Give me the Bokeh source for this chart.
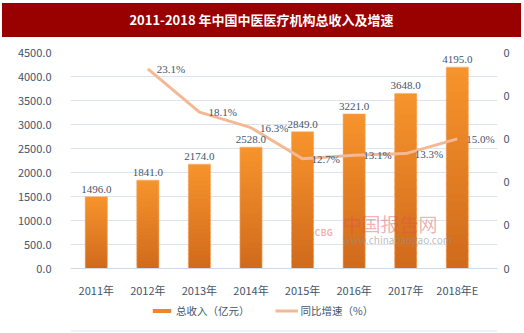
from bokeh.plotting import figure
from bokeh.layouts import column
from bokeh.models import (ColumnDataSource, Range1d, LinearAxis, FixedTicker,
                          NumeralTickFormatter, Legend, LegendItem, LabelSet, Label,
                          Div, BoxAnnotation)
from bokeh.embed import file_html
from bokeh.resources import INLINE

# ---- data ----
years = ["2011年", "2012年", "2013年", "2014年", "2015年", "2016年", "2017年", "2018年E"]
revenue = [1496.0, 1841.0, 2174.0, 2528.0, 2849.0, 3221.0, 3648.0, 4195.0]
growth_years = ["2012年", "2013年", "2014年", "2015年", "2016年", "2017年", "2018年E"]
growth_pct = [23.1, 18.1, 16.3, 12.7, 13.1, 13.3, 15.0]
left_ticks = [0, 500, 1000, 1500, 2000, 2500, 3000, 3500, 4000, 4500]
right_ticks = [0.0, 0.05, 0.10, 0.15, 0.20, 0.25]
title_text = "2011-2018 年中国中医医疗机构总收入及增速"
legend_bar = "总收入（亿元）"
legend_line = "同比增速（%）"

FONT = "Noto Sans CJK SC"
TXT = "#44546A"
BAR = "#EE8729"
BAR_TOP = (247, 148, 44)
BAR_BOTTOM = (208, 106, 28)
LINE = "#F4B994"

xpos = list(range(len(years)))
bar_src = ColumnDataSource(dict(
    x=xpos, rev=revenue, lab=["%.1f" % v for v in revenue]))
line_src = ColumnDataSource(dict(
    x=[years.index(y) for y in growth_years], g=[v / 100 for v in growth_pct],
    lab=["%.1f%%" % v for v in growth_pct]))

# vertical colour gradient of each bar: each bar (from its own value) is split
# into thin slices, dark at the bottom and light at the top; slices overlap a
# little upward so no seams show
NS = 24
OVERLAP = 40.0
gx, gb, gt, gc = [], [], [], []
for i, v in zip(xpos, revenue):
    for k in range(NS):
        f = (k + 0.5) / NS
        c = tuple(int(round(b + (t - b) * f)) for b, t in zip(BAR_BOTTOM, BAR_TOP))
        gx.append(i)
        gb.append(v * k / NS)
        top = v * (k + 1) / NS
        gt.append(top if k == NS - 1 else min(top + OVERLAP, v))
        gc.append("#%02x%02x%02x" % c)
grad_src = ColumnDataSource(dict(x=gx, bottom=gb, top=gt, color=gc))

title = Div(text=title_text, width=519, height=34, margin=(3, 3, 3, 2),
            styles={"background-color": "#990000", "color": "white",
                    "font-weight": "bold", "font-size": "13px",
                    "font-family": FONT, "text-align": "center",
                    "line-height": "34px", "width": "519px"})

p = figure(width=524, height=260, x_range=Range1d(-0.5, 7.78),
           y_range=Range1d(0, 4500),
           output_backend="svg", toolbar_location=None,
           min_border_left=70, min_border_right=27, min_border_top=12,
           min_border_bottom=30, margin=0)
p.outline_line_color = None
p.background_fill_color = "white"
p.border_fill_color = "white"
p.extra_y_ranges = {"pct": Range1d(0, 0.25)}

p.vbar(x="x", bottom="bottom", top="top", width=0.43, source=grad_src,
       fill_color="color", line_color=None)
p.vbar(x="x", top="rev", width=0.43, source=bar_src, fill_alpha=0,
       line_color="#F9B070", line_width=0.8, line_alpha=0.7)
line = p.line(x="x", y="g", source=line_src, y_range_name="pct",
              line_color=LINE, line_width=3)

# axes
p.yaxis.ticker = FixedTicker(ticks=left_ticks)
p.yaxis.formatter = NumeralTickFormatter(format="0.0")
p.xaxis.ticker = FixedTicker(ticks=xpos)
p.xaxis.major_label_overrides = {i: y for i, y in zip(xpos, years)}
for ax in (p.yaxis[0], p.xaxis[0]):
    ax.major_label_text_font = FONT
    ax.major_label_text_font_size = "11px"
    ax.major_label_text_color = TXT
    ax.major_tick_line_color = None
    ax.minor_tick_line_color = None
p.yaxis.axis_line_color = None
p.yaxis.major_label_standoff = 13
p.xaxis.axis_line_color = "#D0D8E8"
p.xaxis.major_label_standoff = 7

rax = LinearAxis(y_range_name="pct", ticker=FixedTicker(ticks=right_ticks),
                 formatter=NumeralTickFormatter(format="0"))
rax.axis_line_color = None
rax.major_tick_line_color = None
rax.minor_tick_line_color = None
rax.major_label_text_font = FONT
rax.major_label_text_font_size = "11px"
rax.major_label_text_color = TXT
rax.major_label_standoff = 0
p.add_layout(rax, "right")

p.xgrid.grid_line_color = None
p.ygrid.grid_line_color = "#DCE4F2"
p.ygrid.grid_line_width = 1

# data labels
p.add_layout(LabelSet(x="x", y="rev", text="lab", source=bar_src,
                      text_align="center", text_baseline="bottom", y_offset=4,
                      text_font=FONT, text_font_size="11px", text_color=TXT))
p.add_layout(LabelSet(x="x", y="g", text="lab", source=line_src,
                      y_range_name="pct", text_align="left",
                      text_baseline="middle", x_offset=9,
                      text_font=FONT, text_font_size="11px", text_color=TXT))

# watermark
p.add_layout(Label(x=272, y=45, x_units="screen", y_units="screen",
                   text="中国报告网", text_font=FONT, text_font_size="19px",
                   text_color="#E05050", text_alpha=0.45, text_baseline="middle"))
p.add_layout(Label(x=272, y=29, x_units="screen", y_units="screen",
                   text="www.chinabaogao.com", text_font=FONT,
                   text_font_size="10px", text_color="#909090", text_alpha=0.6,
                   text_baseline="middle"))
p.add_layout(Label(x=244, y=36, x_units="screen", y_units="screen",
                   text="CBG", text_font=FONT, text_font_size="9px",
                   text_font_style="bold", text_color="#E05050",
                   text_alpha=0.45, text_baseline="middle"))

# legend strip (separate small figure below the chart, frame aligned with chart)
lg = figure(width=524, height=33, x_range=Range1d(0, 1), y_range=Range1d(0, 1),
            output_backend="svg", toolbar_location=None,
            x_axis_type=None, y_axis_type=None, min_border=0, margin=0)
lg.outline_line_color = None
lg.xgrid.grid_line_color = None
lg.ygrid.grid_line_color = None
lbar = lg.vbar(x="x", top="rev", width=0.4, source=bar_src,
               fill_color=BAR, line_color=None, visible=False)
lline = lg.line(x="x", y="g", source=line_src, line_color=LINE, line_width=3,
                visible=False)
legend = Legend(items=[LegendItem(label=legend_bar, renderers=[lbar]),
                       LegendItem(label=legend_line, renderers=[lline])],
                orientation="horizontal", location=(80, 15),
                glyph_width=23, glyph_height=5, label_height=14,
                label_standoff=3, spacing=25, padding=0, margin=0,
                border_line_color=None, background_fill_alpha=0,
                label_text_font=FONT, label_text_font_size="10.5px",
                label_text_color=TXT)
lg.add_layout(legend)
lg.add_layout(BoxAnnotation(left=0, right=1, bottom=2, top=3,
                            bottom_units="screen", top_units="screen",
                            fill_color="#DCE4F2", fill_alpha=1, line_color=None))

layout = column(title, p, lg)
open("out.html", "w").write(file_html(layout, INLINE))
